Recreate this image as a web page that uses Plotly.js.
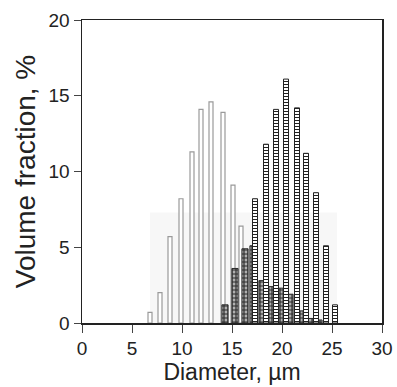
<!DOCTYPE html>
<html>
<head>
<meta charset="utf-8">
<script src="https://cdn.plot.ly/plotly-3.0.1.min.js"></script>
<style>html,body{margin:0;padding:0;background:#fff;}#chart{width:397px;height:387px;}</style>
</head>
<body>
<div id="chart"></div>
<script>
// Series 1: light outlined bars
const lightX = [6.8, 7.8, 8.8, 9.9, 11.0, 11.9, 12.9, 14.1, 15.1, 15.9];
const lightY = [0.7, 2.0, 5.7, 8.2, 11.3, 14.1, 14.6, 13.9, 9.1, 6.4];
// Series 2: dark filled bars
const darkX = [14.3, 15.3, 16.3, 17.1, 18.0, 19.0, 19.8, 20.8, 21.8, 22.8, 23.7];
const darkY = [1.2, 3.6, 4.9, 5.1, 2.8, 2.4, 2.3, 1.9, 0.8, 0.3, 0.2];
// Series 3: dotted outlined bars
const dotX = [17.3, 18.4, 19.4, 20.4, 21.5, 22.4, 23.4, 24.4, 25.3];
const dotY = [8.2, 11.8, 14.1, 16.1, 14.2, 11.2, 8.6, 5.1, 1.2];

const xTicks = [0, 5, 10, 15, 20, 25, 30];
const yTicks = [0, 5, 10, 15, 20];

const traces = [
  {type: 'bar', x: lightX, y: lightY, width: 0.4, showlegend: false,
   marker: {color: '#ffffff', line: {color: '#9a9a9a', width: 1.2}}},
  {type: 'bar', x: darkX, y: darkY, width: 0.62, showlegend: false,
   marker: {color: '#666', line: {color: '#2a2a2a', width: 1},
            pattern: {shape: '+', fgcolor: '#2a2a2a', bgcolor: '#b0b0b0', size: 4, solidity: 0.5, fillmode: 'replace'}}},
  {type: 'bar', x: dotX, y: dotY, width: 0.5, showlegend: false,
   marker: {color: '#ffffff', line: {color: '#222', width: 1},
            pattern: {shape: '-', fgcolor: '#222', bgcolor: '#ffffff', size: 3, solidity: 0.35, fillmode: 'replace'}}}
];

const font = 'Liberation Sans, Arial, sans-serif';
const layout = {
  width: 397, height: 387,
  margin: {l: 82, r: 15, t: 20, b: 64},
  paper_bgcolor: '#ffffff', plot_bgcolor: '#ffffff',
  barmode: 'overlay', bargap: 0,
  font: {family: font, color: '#222'},
  shapes: [{type: 'rect', xref: 'x', yref: 'y', x0: 6.8, x1: 25.5, y0: 0, y1: 7.3,
            fillcolor: '#f7f7f7', line: {width: 0}, layer: 'below'}],
  xaxis: {range: [0, 30], tickvals: xTicks, ticktext: xTicks.map(String),
          ticks: 'outside', ticklen: 8, tickwidth: 1, tickcolor: '#444',
          showline: true, linecolor: '#222', linewidth: 1.5, mirror: true,
          showgrid: false, zeroline: false, tickfont: {size: 19, family: font, color: '#222'},
          title: {text: 'Diameter, µm', font: {size: 23, family: font, color: '#222'}, standoff: 3}},
  yaxis: {range: [0, 20], tickvals: yTicks, ticktext: yTicks.map(String),
          ticks: 'outside', ticklen: 7, tickwidth: 1, tickcolor: '#444',
          showline: true, linecolor: '#222', linewidth: 1.5, mirror: true,
          showgrid: false, zeroline: false, tickfont: {size: 19, family: font, color: '#222'},
          title: {text: 'Volume fraction, %', font: {size: 28, family: font, color: '#222'}, standoff: 5}}
};

Plotly.newPlot('chart', traces, layout, {staticPlot: true, displayModeBar: false});
</script>
</body>
</html>
